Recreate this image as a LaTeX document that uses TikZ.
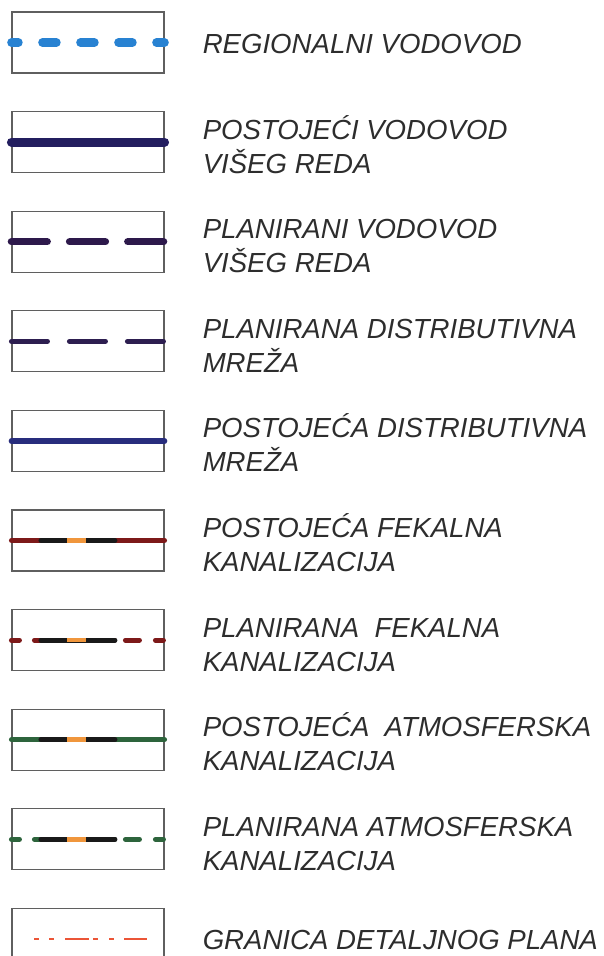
\documentclass[tikz,border=0pt]{standalone}
\usepackage{fontspec}
\setmainfont{Liberation Sans}
\usepackage{tikz}
\usetikzlibrary{positioning}

\definecolor{regblue}{RGB}{40,130,210}
\definecolor{vodnavy}{RGB}{35,30,95}
\definecolor{vodpurple}{RGB}{45,25,75}
\definecolor{distnavy}{RGB}{45,30,80}
\definecolor{distblue}{RGB}{40,45,125}
\definecolor{fekred}{RGB}{125,25,25}
\definecolor{atmgreen}{RGB}{45,100,60}
\definecolor{segblack}{RGB}{25,25,25}
\definecolor{segorange}{RGB}{240,150,60}
\definecolor{granred}{RGB}{235,85,55}
\definecolor{labgray}{RGB}{45,45,45}
\definecolor{boxgray}{RGB}{95,95,95}

\begin{document}
\begin{tikzpicture}[
        node distance=37.5pt,
        legbox/.style={draw=boxgray, line width=1.1pt, rectangle, minimum width=152pt, minimum height=61pt, inner sep=0pt},
        lab/.style={anchor=base west, inner sep=0pt, align=left, text=labgray, font=\fontsize{27.6}{34}\selectfont\itshape},
        reg/.style={regblue, line width=8.5pt, line cap=round, dash pattern=on 14pt off 24pt, dash phase=7pt},
        segblk/.style={segblack, line width=5pt, line cap=round},
        segorg/.style={segorange, line width=4.5pt}
      ]
        \useasboundingbox (0,0) rectangle (604pt,-956pt);

        % legend boxes
        \node[legbox] (b1) at (88pt,-42.5pt) {};
        \node[legbox, below=of b1] (b2) {};
        \node[legbox, below=of b2] (b3) {};
        \node[legbox, below=of b3] (b4) {};
        \node[legbox, below=of b4] (b5) {};
        \node[legbox, below=of b5] (b6) {};
        \node[legbox, below=of b6] (b7) {};
        \node[legbox, below=of b7] (b8) {};
        \node[legbox, below=of b8] (b9) {};
        \node[legbox, below=of b9] (b10) {};

        % line samples
        \draw[reg] (b1.west) -- (b1.east);
        \draw[vodnavy, line width=9pt, line cap=round] (b2.west) -- (b2.east);
        \draw[vodpurple, line width=7.5pt, line cap=round, dash pattern=on 35.7pt off 22.5pt] (b3.west) -- (b3.east);
        \draw[distnavy, line width=5pt, line cap=round, dash pattern=on 36pt off 22pt] (b4.west) -- (b4.east);
        \draw[distblue, line width=5.5pt, line cap=round] (b5.west) -- (b5.east);

        \draw[fekred, line width=5pt, line cap=round] (b6.west) -- (b6.east);
        \draw[segblk] ([xshift=29.5pt]b6.west) -- ([xshift=103.5pt]b6.west);
        \draw[segorg] ([xshift=56pt]b6.west) -- ([xshift=75pt]b6.west);

        \draw[fekred, line width=5pt, line cap=round, dash pattern=on 8pt off 15pt on 80pt off 11pt on 14pt off 16pt on 8pt off 20pt] (b7.west) -- (b7.east);
        \draw[segblk] ([xshift=29.5pt]b7.west) -- ([xshift=103.5pt]b7.west);
        \draw[segorg] ([xshift=56pt]b7.west) -- ([xshift=75pt]b7.west);

        \draw[atmgreen, line width=5pt, line cap=round] (b8.west) -- (b8.east);
        \draw[segblk] ([xshift=29.5pt]b8.west) -- ([xshift=103.5pt]b8.west);
        \draw[segorg] ([xshift=56pt]b8.west) -- ([xshift=75pt]b8.west);

        \draw[atmgreen, line width=5pt, line cap=round, dash pattern=on 8pt off 15pt on 80pt off 11pt on 14pt off 16pt on 8pt off 20pt] (b9.west) -- (b9.east);
        \draw[segblk] ([xshift=29.5pt]b9.west) -- ([xshift=103.5pt]b9.west);
        \draw[segorg] ([xshift=56pt]b9.west) -- ([xshift=75pt]b9.west);

        \draw[granred, line width=2pt, dash pattern=on 5pt off 10pt on 5pt off 11pt on 24pt off 4pt on 5pt off 11pt on 5pt off 10pt on 23pt off 20pt] ([xshift=23pt]b10.west) -- ([xshift=136pt]b10.west);

        % labels
        \node[lab] (t1) at ([xshift=38pt,yshift=-10.5pt]b1.east) {REGIONALNI VODOVOD};
        \node[lab] (t2) at ([xshift=38pt,yshift=-31pt]b2.east) {POSTOJEĆI VODOVOD\\VIŠEG REDA};
        \node[lab] (t3) at ([xshift=38pt,yshift=-31pt]b3.east) {PLANIRANI VODOVOD\\VIŠEG REDA};
        \node[lab] (t4) at ([xshift=38pt,yshift=-31pt]b4.east) {PLANIRANA DISTRIBUTIVNA\\MREŽA};
        \node[lab] (t5) at ([xshift=38pt,yshift=-31pt]b5.east) {POSTOJEĆA DISTRIBUTIVNA\\MREŽA};
        \node[lab] (t6) at ([xshift=38pt,yshift=-31pt]b6.east) {POSTOJEĆA FEKALNA\\KANALIZACIJA};
        \node[lab] (t7) at ([xshift=38pt,yshift=-31pt]b7.east) {PLANIRANA\ \ FEKALNA\\KANALIZACIJA};
        \node[lab] (t8) at ([xshift=38pt,yshift=-31pt]b8.east) {POSTOJEĆA\ \ ATMOSFERSKA\\KANALIZACIJA};
        \node[lab] (t9) at ([xshift=38pt,yshift=-31pt]b9.east) {PLANIRANA ATMOSFERSKA\\KANALIZACIJA};
        \node[lab] (t10) at ([xshift=38pt,yshift=-10.5pt]b10.east) {GRANICA DETALJNOG PLANA};
      \end{tikzpicture}
\end{document}
